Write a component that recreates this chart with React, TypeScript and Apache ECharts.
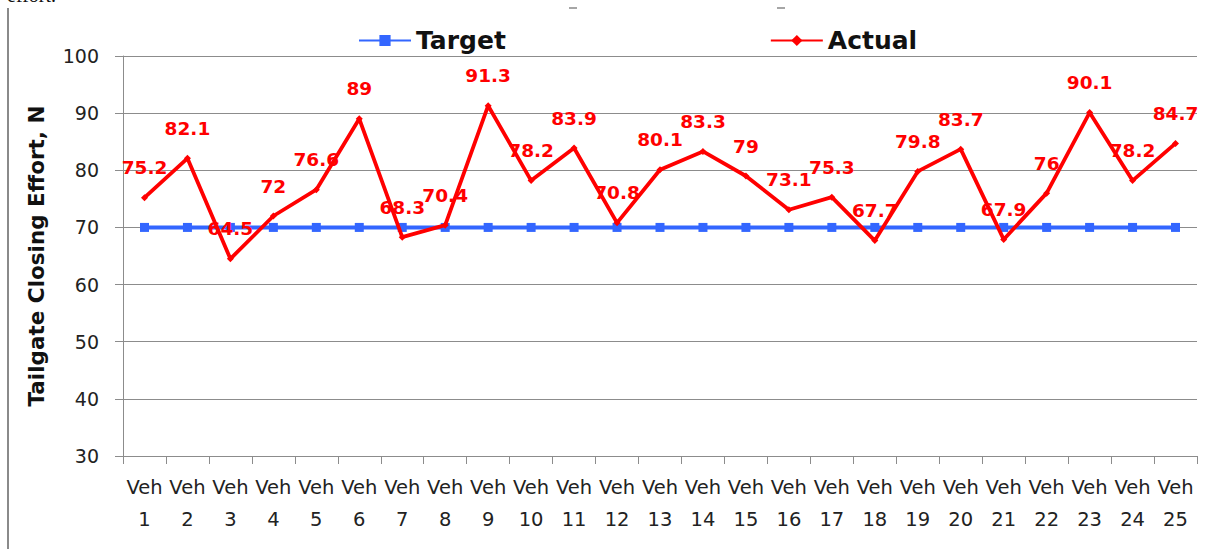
import React, { useEffect, useRef } from "react";
import * as echarts from "echarts";

const categories = Array.from({ length: 25 }, (_, i) => `Veh\n${i + 1}`);
const actual = [75.2, 82.1, 64.5, 72, 76.6, 89, 68.3, 70.4, 91.3, 78.2, 83.9, 70.8, 80.1, 83.3, 79, 73.1, 75.3, 67.7, 79.8, 83.7, 67.9, 76, 90.1, 78.2, 84.7];
const target = [70, 70, 70, 70, 70, 70, 70, 70, 70, 70, 70, 70, 70, 70, 70, 70, 70, 70, 70, 70, 70, 70, 70, 70, 70];

const FONT = "'DejaVu Sans', sans-serif";

export default function App() {
  const ref = useRef<HTMLDivElement>(null);
  useEffect(() => {
    const chart = echarts.init(ref.current!, null, { renderer: "svg" });
    chart.setOption({
      animation: false,
      backgroundColor: "#ffffff",
      textStyle: { fontFamily: FONT },
      grid: { left: 123, right: 8, top: 56, bottom: 93, containLabel: false },
      legend: {
        left: 353,
        top: 23,
        itemWidth: 52,
        itemHeight: 14,
        itemGap: 264,
        textStyle: { fontSize: 25, fontWeight: "bold", color: "#111", fontFamily: FONT },
        data: ["Target", "Actual"],
      },
      xAxis: {
        type: "category",
        data: categories,
        boundaryGap: true,
        axisLine: { lineStyle: { color: "#8c8c8c", width: 1 } },
        axisTick: { show: true, length: 8, alignWithLabel: false, lineStyle: { color: "#8c8c8c" } },
        axisLabel: { color: "#222", fontSize: 19.5, lineHeight: 32, margin: 15, interval: 0, fontFamily: FONT },
      },
      yAxis: {
        type: "value",
        min: 30,
        max: 100,
        interval: 10,
        name: "Tailgate Closing Effort, N",
        nameLocation: "middle",
        nameGap: 76,
        nameTextStyle: { fontSize: 21.5, fontWeight: "bold", color: "#111", fontFamily: FONT },
        axisLine: { show: true, lineStyle: { color: "#8c8c8c", width: 1 } },
        axisTick: { show: true, length: 8, lineStyle: { color: "#8c8c8c" } },
        axisLabel: { color: "#222", fontSize: 19, margin: 24, fontFamily: FONT },
        splitLine: { show: true, lineStyle: { color: "#8c8c8c", width: 1 } },
      },
      series: [
        {
          name: "Target",
          type: "line",
          data: target,
          color: "#3366ff",
          lineStyle: { width: 4, color: "#3366ff" },
          symbol: "rect",
          symbolSize: 9,
          itemStyle: { color: "#3366ff" },
          z: 2,
        },
        {
          name: "Actual",
          type: "line",
          data: actual,
          color: "#ff0000",
          lineStyle: { width: 3.8, color: "#ff0000" },
          symbol: "diamond",
          symbolSize: 7,
          itemStyle: { color: "#ff0000" },
          z: 3,
          label: {
            show: true,
            position: "top",
            distance: 17,
            color: "#ff0000",
            fontSize: 18.5,
            fontWeight: "bold",
            fontFamily: FONT,
          },
        },
      ],
      graphic: [
        {
          type: "line",
          shape: { x1: 8, y1: 8, x2: 8, y2: 549 },
          style: { stroke: "#8a8a8a", lineWidth: 2 },
        },
        {
          type: "text",
          left: 7,
          top: -15,
          style: { text: "effort.", font: "20px 'Liberation Serif', serif", fill: "#111" },
        },
        {
          type: "line",
          shape: { x1: 569, y1: 8, x2: 577, y2: 8 },
          style: { stroke: "#888", lineWidth: 1.5 },
        },
        {
          type: "line",
          shape: { x1: 777, y1: 8, x2: 785, y2: 8 },
          style: { stroke: "#888", lineWidth: 1.5 },
        },
      ],
    });
    return () => chart.dispose();
  }, []);
  return (
    <div
      ref={ref}
      style={{ position: "absolute", left: 0, top: 0, width: 1205, height: 549 }}
    />
  );
}
